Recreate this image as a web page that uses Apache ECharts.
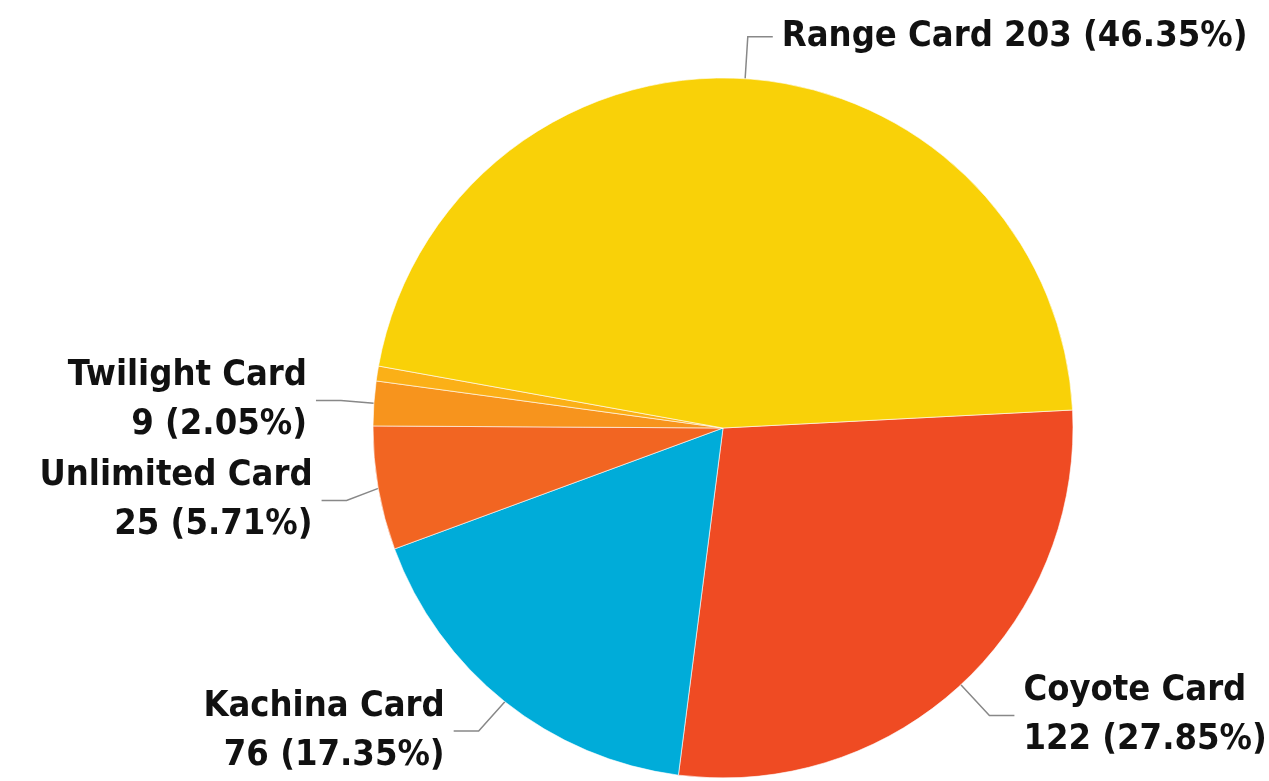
<!DOCTYPE html>
<html>
<head>
<meta charset="utf-8">
<script src="https://cdn.jsdelivr.net/npm/echarts@6/dist/echarts.min.js"></script>
<style>
  html, body { margin: 0; padding: 0; background: #fff; }
  #main { width: 1269px; height: 781px; }
</style>
</head>
<body>
<div id="main"></div>
<script type="text/javascript">
	// 数据（顺时针顺序，从 Coyote 开始）
	var cardNames = ['Coyote Card', 'Kachina Card', 'Unlimited Card', 'Twilight Card', 'Other', 'Range Card'];
	var cardCounts = [122, 76, 25, 9, 3, 203];
	var cardColors = ['#EF4B23', '#00ACD9', '#F26522', '#F7941D', '#FBB017', '#F9D108'];
	var singleLine = ['Range Card']; // 单行标签
	var hiddenLabel = ['Other'];      // 不显示标签

	var pieData = cardNames.map(function (n, i) {
		var item = { name: n, value: cardCounts[i], itemStyle: { color: cardColors[i] } };
		if (hiddenLabel.indexOf(n) >= 0) {
			item.label = { show: false };
			item.labelLine = { show: false };
		}
		return item;
	});

	var myChart = echarts.init(document.getElementById('main'));
	myChart.setOption({
		animation: false,
		series: [{
			type: 'pie',
			center: [723, 428],
			radius: 350,
			startAngle: 2.95,
			clockwise: true,
			avoidLabelOverlap: true,
			data: pieData,
			itemStyle: {
				borderColor: 'rgba(255,255,255,0.6)',
				borderWidth: 1
			},
			label: {
				position: 'outside',
				color: '#111',
				fontFamily: '"DejaVu Sans Condensed", sans-serif',
				fontWeight: 'bold',
				fontSize: 36,
				lineHeight: 49,
				overflow: 'none',
				distanceToLabelLine: 9,
				formatter: function (p) {
					if (singleLine.indexOf(p.name) >= 0) {
						return p.name + ' ' + p.value + ' (' + p.percent.toFixed(2) + '%)';
					}
					return p.name + '\n' + p.value + ' (' + p.percent.toFixed(2) + '%)';
				}
			},
			labelLine: {
				show: true,
				length: 42,
				length2: 25,
				lineStyle: { color: '#888', width: 1.5 }
			}
		}]
	});
</script>
</body>
</html>
